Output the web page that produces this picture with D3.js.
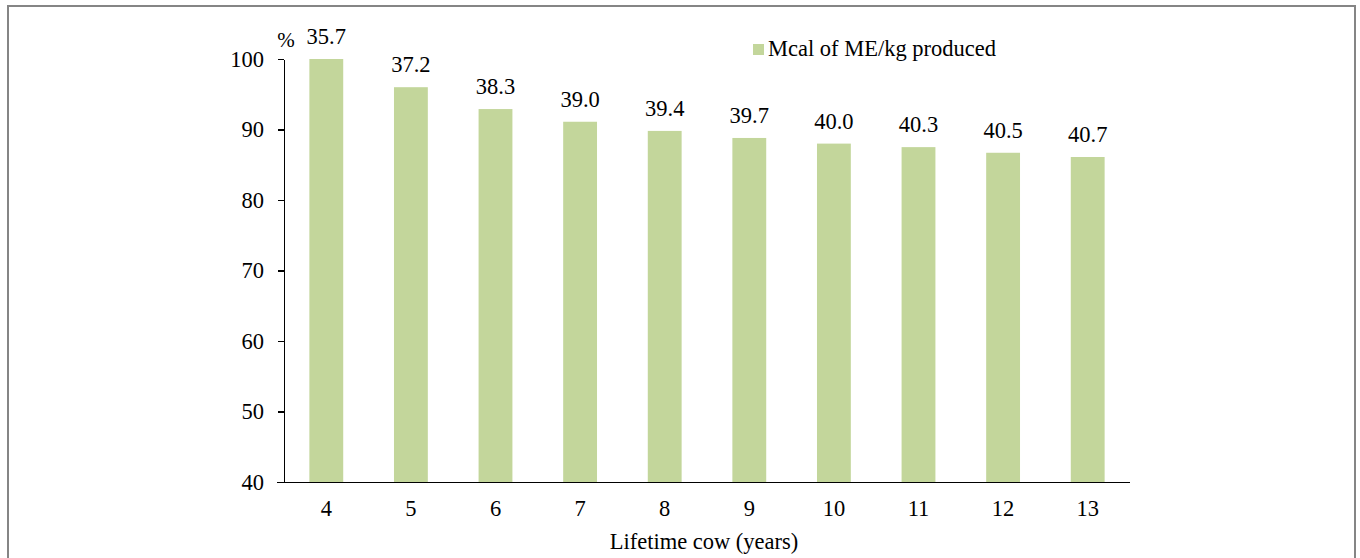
<!DOCTYPE html>
<head>
<meta charset="utf-8">
<title>Mcal of ME/kg produced</title>
<script src="https://cdn.jsdelivr.net/npm/d3@7"></script>
<style>
body { margin: 0; background: #fff; }
text { font-family: "Liberation Serif", "Times New Roman", serif; fill: #000; }
.axis path, .axis line { stroke: #000; stroke-width: 1.5; shape-rendering: crispEdges; }
.axis text { font-size: 22.5px; }
</style>
</head>
<body>
<script>
// lifetime of the cow, years
var years = ["4", "5", "6", "7", "8", "9", "10", "11", "12", "13"];
// bar height, % of the 4-year value
var pct = [100, 96.0, 92.9, 91.1, 89.8, 88.8, 88.0, 87.5, 86.7, 86.1];
// label over each bar, Mcal of ME/kg produced
var mcal = ["35.7", "37.2", "38.3", "39.0", "39.4", "39.7", "40.0", "40.3", "40.5", "40.7"];
var yTicks = [40, 50, 60, 70, 80, 90, 100];

var width = 1360, height = 558;
var svg = d3.select("body").append("svg")
	.attr("width", width)
	.attr("height", height);

// grey frame round the figure
svg.append("rect")
	.attr("x", 8).attr("y", 6)
	.attr("width", 1347).attr("height", 600)
	.attr("fill", "none")
	.attr("stroke", "#858585")
	.attr("stroke-width", 2);

var x = d3.scaleBand()
	.domain(years)
	.range([284, 1130])
	.paddingInner(0.6)
	.paddingOuter(0.3);

var y = d3.scaleLinear()
	.domain([40, 100])
	.range([482, 59]);

svg.selectAll(".bar").data(pct).enter()
	.append("rect")
	.attr("class", "bar")
	.attr("x", function(d, i) { return x(years[i]); })
	.attr("y", function(d) { return y(d); })
	.attr("width", x.bandwidth())
	.attr("height", function(d) { return y(40) - y(d); })
	.attr("fill", "#c3d69b");

svg.selectAll(".lbl").data(pct).enter()
	.append("text")
	.attr("class", "lbl")
	.attr("x", function(d, i) { return x(years[i]) + x.bandwidth() / 2; })
	.attr("y", function(d) { return y(d) - 15; })
	.attr("text-anchor", "middle")
	.style("font-size", "22.5px")
	.text(function(d, i) { return mcal[i]; });

var yAxis = svg.append("g")
	.attr("class", "axis")
	.attr("transform", "translate(284,0)")
	.call(d3.axisLeft(y).tickValues(yTicks).tickSize(6).tickSizeOuter(0).tickPadding(14));

var xAxis = svg.append("g")
	.attr("class", "axis")
	.attr("transform", "translate(0,482)")
	.call(d3.axisBottom(x).tickSize(0));

xAxis.selectAll("text").attr("y", 34).attr("dy", null);

// x axis line reaches a bit past the y axis, like the source
xAxis.select(".domain").attr("d", "M277,0.5H1130");

svg.append("text")
	.attr("x", 286).attr("y", 47)
	.attr("text-anchor", "middle")
	.style("font-size", "21px")
	.text("%");

svg.append("text")
	.attr("x", 704).attr("y", 549)
	.attr("text-anchor", "middle")
	.style("font-size", "22.5px")
	.text("Lifetime cow (years)");

// legend
svg.append("rect")
	.attr("x", 753).attr("y", 44)
	.attr("width", 11).attr("height", 11)
	.attr("fill", "#c3d69b");

svg.append("text")
	.attr("x", 768).attr("y", 56)
	.style("font-size", "22.5px")
	.text("Mcal of ME/kg produced");
</script>
</body>
